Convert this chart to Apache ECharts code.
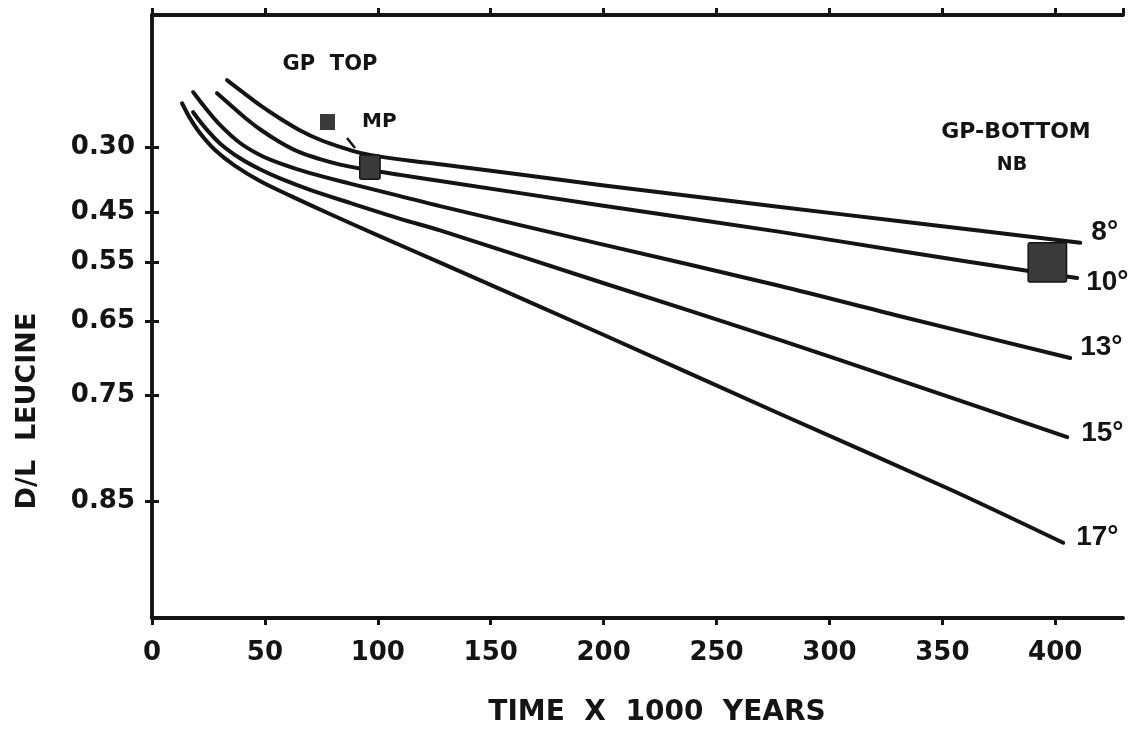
<!DOCTYPE html>
<html>
<head>
<meta charset="utf-8">
<title>D/L Leucine vs time</title>
<script src="https://cdn.jsdelivr.net/npm/echarts@6/dist/echarts.min.js"></script>
<style>
  html, body { margin: 0; padding: 0; background: #ffffff; }
  #chart { width: 1133px; height: 737px; }
</style>
</head>
<body>
<div id="chart"></div>
<script>
// Racemization curves: D/L leucine ratio against time (thousands of years)
// for several mean temperatures.
const dlTicks = [0.30, 0.45, 0.55, 0.65, 0.75, 0.85];
const curveNames = ['8°', '10°', '13°', '15°', '17°'];

// [time (ka), D/L]
const curve8 = [[33.2,0.130],[40.3,0.162],[47.8,0.195],[56.7,0.229],[65.6,0.259],[74.4,0.282],[84.6,0.302],[92.1,0.314],[101,0.323],[114.3,0.333],[127.6,0.341],[198.4,0.389],[278.2,0.438],[331.3,0.468],[411.1,0.512]];
const curve10 = [[28.8,0.164],[34.6,0.194],[41.2,0.227],[47.8,0.256],[56.7,0.288],[65.6,0.313],[74.4,0.329],[83.3,0.342],[92.1,0.351],[109.9,0.366],[127.6,0.380],[198.4,0.434],[278.2,0.490],[331.3,0.528],[387.6,0.565],[409.7,0.578]];
const curve13 = [[18.2,0.161],[23.5,0.201],[30.1,0.245],[39.0,0.290],[47.8,0.319],[56.7,0.339],[70.0,0.362],[87.7,0.386],[109.9,0.414],[127.6,0.436],[198.4,0.514],[278.2,0.592],[331.3,0.642],[406.6,0.703]];
const curve15 = [[18.2,0.213],[23.5,0.252],[30.1,0.291],[39.0,0.327],[47.8,0.353],[56.7,0.374],[70.0,0.400],[87.7,0.429],[109.9,0.463],[127.6,0.487],[198.4,0.585],[278.2,0.678],[331.3,0.732],[405.3,0.795]];
const curve17 = [[13.3,0.190],[16.8,0.228],[21.3,0.266],[27.9,0.307],[36.8,0.345],[47.8,0.380],[61.1,0.413],[78.8,0.453],[101.0,0.499],[127.6,0.550],[198.4,0.668],[278.2,0.771],[353.5,0.841],[403.5,0.878]];
const curves = [curve8, curve10, curve13, curve15, curve17];

// sample ranges [t0, t1, D/L low, D/L high]
const mpRange = [92, 101, 0.319, 0.376];
const gpBottomRange = [388, 405, 0.512, 0.585];

// the vertical scale is ln((1+D/L)/(1-D/L)), which straightens the kinetics
const toAxis = dl => Math.log((1 + dl) / (1 - dl));
const fromAxis = v => Math.tanh(v / 2);

const INK = '#141414';
const FONT = '"DejaVu Sans", sans-serif';
const tickValues = dlTicks.map(toAxis);

// end-label nudges so each temperature sits beside its curve
const labelOffsets = [[3, -11], [1, 4], [2, -11], [6, -4], [5, -5]];

const chart = echarts.init(document.getElementById('chart'), null, { renderer: 'canvas' });

const yAxisBase = {
  type: 'value',
  inverse: true,
  min: -0.087,
  max: 3.136,
  splitLine: { show: false },
  axisLine: { show: true, lineStyle: { color: INK, width: 3.5 } },
  axisTick: { show: true, customValues: tickValues, length: 7, lineStyle: { color: INK, width: 3 } }
};
const xAxisBase = {
  type: 'value',
  min: 0,
  max: 430,
  interval: 50,
  splitLine: { show: false },
  axisLine: { show: true, onZero: false, lineStyle: { color: INK, width: 4 } },
  axisTick: { show: true, length: 7, lineStyle: { color: INK, width: 3 } }
};

const lineSeries = curves.map((pts, i) => ({
  name: curveNames[i],
  type: 'line',
  xAxisIndex: 0,
  yAxisIndex: 0,
  data: pts.map(([t, dl]) => [t, toAxis(dl)]),
  showSymbol: false,
  symbol: 'none',
  smooth: 0.3,
  silent: true,
  lineStyle: { color: INK, width: 4, cap: 'round', join: 'round' },
  endLabel: {
    show: true,
    formatter: p => p.seriesName,
    offset: labelOffsets[i],
    color: INK,
    fontFamily: '"Liberation Sans", sans-serif',
    fontWeight: 'bold',
    fontSize: 28
  },
  z: 3
}));

function boxSeries(name, range) {
  return {
    name: name,
    type: 'custom',
    xAxisIndex: 0,
    yAxisIndex: 0,
    data: [[range[0], range[1], toAxis(range[2]), toAxis(range[3])]],
    encode: { x: [0, 1], y: [2, 3] },
    itemStyle: { color: '#3a3a3a' },
    renderItem: (params, api) => {
      const a = api.coord([api.value(0), api.value(2)]);
      const b = api.coord([api.value(1), api.value(3)]);
      return {
        type: 'rect',
        shape: {
          x: Math.min(a[0], b[0]), y: Math.min(a[1], b[1]),
          width: Math.abs(b[0] - a[0]), height: Math.abs(b[1] - a[1]), r: 2
        },
        style: { fill: '#3a3a3a', stroke: INK, lineWidth: 1.5 }
      };
    },
    z: 4
  };
}

const option = {
  backgroundColor: '#ffffff',
  animation: false,
  grid: { left: 152, right: 10, top: 15, bottom: 119, show: false, containLabel: false, outerBoundsMode: 'none' },
  legend: {
    data: [{ name: 'MP', icon: 'rect' }],
    left: 320,
    top: 112,
    padding: 0,
    itemWidth: 15,
    itemHeight: 16,
    selectedMode: false,
    textStyle: { color: INK, fontFamily: FONT, fontWeight: 'bold', fontSize: 20, padding: [0, 0, 0, 22] }
  },
  xAxis: [
    Object.assign({}, xAxisBase, {
      position: 'bottom',
      axisLabel: { show: true, showMaxLabel: false, margin: 22, color: INK, fontFamily: FONT, fontWeight: 'bold', fontSize: 26 }
    }),
    Object.assign({}, xAxisBase, {
      position: 'top',
      axisLabel: { show: false }
    })
  ],
  yAxis: [
    Object.assign({}, yAxisBase, {
      position: 'left',
      axisLabel: {
        show: true,
        customValues: tickValues,
        formatter: v => fromAxis(v).toFixed(2),
        margin: 17,
        padding: [0, 0, 24, 0],
        color: INK, fontFamily: FONT, fontWeight: 'bold', fontSize: 26
      }
    }),
    Object.assign({}, yAxisBase, {
      position: 'right',
      axisLabel: { show: false }
    })
  ],
  series: lineSeries.concat([boxSeries('MP', mpRange), boxSeries('GP-BOTTOM NB', gpBottomRange)]),
  graphic: [
    { type: 'text', x: 330, y: 65, style: { text: 'GP  TOP', fill: INK, font: 'bold 21px ' + FONT, align: 'center', verticalAlign: 'middle' } },
    { type: 'line', shape: { x1: 347, y1: 138, x2: 355, y2: 148 }, style: { stroke: INK, lineWidth: 2.5 } },
    { type: 'text', x: 1016, y: 132, style: { text: 'GP-BOTTOM', fill: INK, font: 'bold 22px ' + FONT, align: 'center', verticalAlign: 'middle' } },
    { type: 'text', x: 1012, y: 165, style: { text: 'NB', fill: INK, font: 'bold 19px ' + FONT, align: 'center', verticalAlign: 'middle' } },
    { type: 'text', x: 28, y: 411, rotation: Math.PI / 2, style: { text: 'D/L  LEUCINE', fill: INK, font: 'bold 27px ' + FONT, align: 'center', verticalAlign: 'middle' } },
    { type: 'text', x: 657, y: 713, style: { text: 'TIME  X  1000  YEARS', fill: INK, font: 'bold 28px ' + FONT, align: 'center', verticalAlign: 'middle' } }
  ]
};

chart.setOption(option);
</script>
</body>
</html>
